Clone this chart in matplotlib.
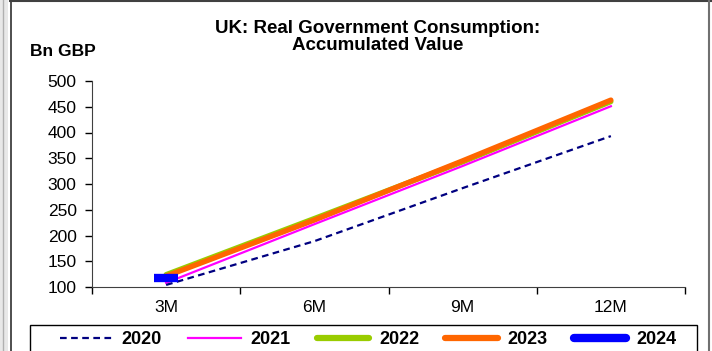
import matplotlib.pyplot as plt
from matplotlib.patches import Rectangle
from matplotlib.lines import Line2D

plt.rcParams['font.family'] = ['Liberation Sans', 'DejaVu Sans']

# categories and accumulated values (Bn GBP)
periods = ['3M', '6M', '9M', '12M']
v2020 = [104, 189, 292, 393]
v2021 = [108, 222, 335, 451]
v2022 = [124, 233, 343, 460]
v2023 = [121, 230, 345, 463]
v2024 = [118]

fig = plt.figure(figsize=(7.12, 3.51), dpi=100)
ax = fig.add_axes([92/712, 1 - 287/351, (685 - 92)/712, (287 - 81)/351])

x = list(range(len(periods)))
ax.plot(x, v2022, color='#99CC00', lw=3.8, solid_capstyle='round', label='2022')
ax.plot(x, v2023, color='#FF6600', lw=3.8, solid_capstyle='round', label='2023')
ax.plot(x, v2021, color='#FF00FF', lw=1.6, label='2021')
ax.plot(x, v2020, color='#000080', lw=1.6, ls=(0, (3, 2)), label='2020')
ax.plot(x[:len(v2024)], v2024, color='#0000FF', lw=4.5, marker='_', ms=17, mew=6,
        solid_capstyle='round', label='2024')

ax.set_xlim(-0.5, len(periods) - 0.5)
ax.set_ylim(100, 500)
ax.set_yticks(range(100, 501, 50))
ax.set_xticks([i - 0.5 for i in range(len(periods) + 1)])
ax.set_xticklabels([])
ax.set_xticks(x, minor=True)
ax.set_xticklabels(periods, minor=True)
ax.tick_params(axis='x', which='major', direction='out', length=5, width=1)
ax.tick_params(axis='x', which='minor', length=0, pad=9, labelsize=12.5)
ax.tick_params(axis='y', direction='out', length=5, width=1, labelsize=12.5, pad=6)
for s in ['top', 'right']:
    ax.spines[s].set_visible(False)
ax.spines['left'].set_color('#404040')
ax.spines['bottom'].set_color('#404040')

fig.text(378/712, 1 - 37/351, 'UK: Real Government Consumption:\nAccumulated Value',
         ha='center', va='center', fontsize=13.5, fontweight='bold', linespacing=1.05)
fig.text(30/712, 1 - 51/351, 'Bn GBP', ha='left', va='center', fontsize=12.5, fontweight='bold')

# legend in the order of the reference, box drawn separately (cut by the bottom edge)
handles = [
    Line2D([], [], color='#000080', lw=1.6, ls=(0, (3, 2))),
    Line2D([], [], color='#FF00FF', lw=1.6),
    Line2D([], [], color='#99CC00', lw=4.5, solid_capstyle='round'),
    Line2D([], [], color='#FF6600', lw=4.5, solid_capstyle='round'),
    Line2D([], [], color='#0000FF', lw=6, solid_capstyle='round'),
]
labels = ['2020', '2021', '2022', '2023', '2024']
fig.legend(handles, labels, loc='center', ncol=5,
           bbox_to_anchor=(368/712, 1 - 340/351), frameon=False,
           handlelength=2.9, handletextpad=0.55, columnspacing=1.45,
           prop={'weight': 'bold', 'size': 13})
fig.patches.append(Rectangle((30/712, -0.05), 667/712, 0.05 + 1 - 325/351,
                             transform=fig.transFigure, facecolor='none',
                             edgecolor='black', lw=1.0))

# outer frame of the chart area
fig.patches.append(Rectangle((0, 0), 8/712, 1, transform=fig.transFigure,
                             facecolor='#E8E8E8', edgecolor='none'))
fig.add_artist(Line2D([3/712, 3/712], [0, 1], transform=fig.transFigure, color='#B0B0B0', lw=1))
fig.add_artist(Line2D([10.5/712, 10.5/712], [0, 1], transform=fig.transFigure, color='#303030', lw=1.2))
fig.add_artist(Line2D([10/712, 1], [1 - 1/351, 1 - 1/351], transform=fig.transFigure, color='#404040', lw=1.5))
fig.add_artist(Line2D([709/712, 709/712], [0, 1], transform=fig.transFigure, color='#707070', lw=1.5))

fig.savefig('out.png', dpi=100)
